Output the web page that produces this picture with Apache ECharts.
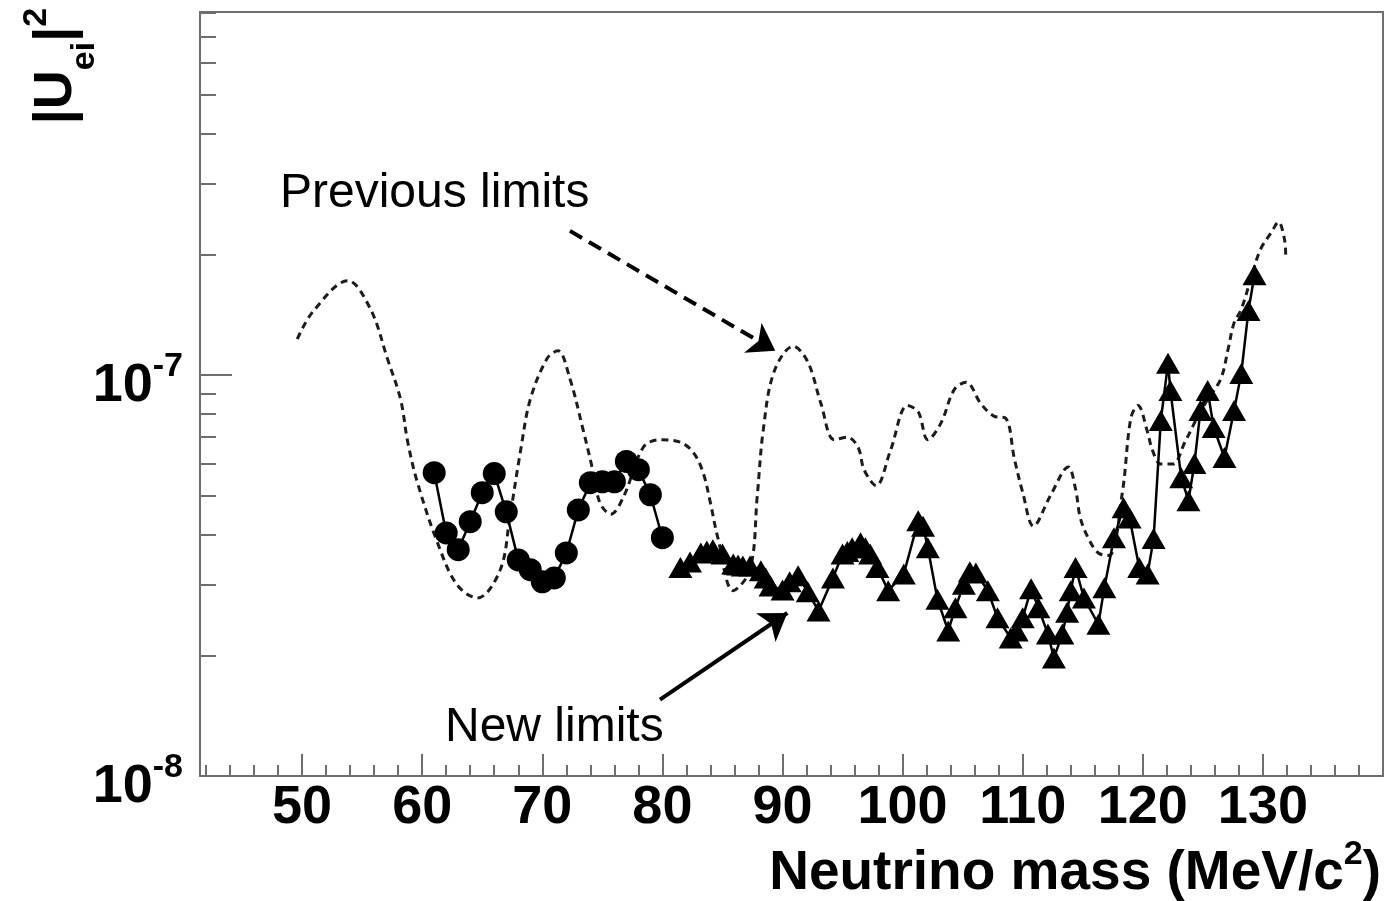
<!DOCTYPE html>
<html>
<head>
<meta charset="utf-8">
<script src="https://cdn.jsdelivr.net/npm/echarts@6/dist/echarts.min.js"></script>
<style>
html,body{margin:0;padding:0;background:#fff;}
#chart{width:1392px;height:901px;}
</style>
</head>
<body>
<div id="chart"></div>
<script>
// ---------- data ----------
// Previous limits (dashed curve): mass (MeV/c^2), |U_ei|^2
const prevMass = [49.6,50.9,53.8,55.7,57.1,58.2,58.8,59.6,61.3,62.9,64.6,66.5,67.3,68.2,69.0,70.4,71.3,72.3,73.4,74.2,74.8,75.7,76.8,78.4,79.8,81.5,82.6,83.4,84.0,84.6,85.9,87.3,87.9,88.4,89.3,90.9,92.1,93.2,94.3,95.4,96.3,96.8,97.8,99.0,100.4,101.3,102.1,103.2,104.3,105.3,106.5,107.6,108.6,109.3,110.0,110.9,112.3,113.8,114.4,114.8,115.5,116.3,117.2,118.3,119.0,119.6,120.4,120.8,121.5,122.5,123.5,124.5,125.4,126.5,127.1,127.6,128.2,129.0,129.8,130.7,131.3,131.8,131.9];
const prevU2 = [1.23e-7,1.44e-7,1.72e-7,1.46e-7,1.10e-7,8.7e-8,6.8e-8,5.4e-8,3.8e-8,3.0e-8,2.78e-8,3.27e-8,4.43e-8,6.5e-8,8.7e-8,1.10e-7,1.15e-7,9.8e-8,7.3e-8,5.8e-8,4.8e-8,4.5e-8,5.0e-8,6.6e-8,6.9e-8,6.8e-8,6.4e-8,5.7e-8,4.8e-8,3.95e-8,2.9e-8,3.27e-8,5.0e-8,7.3e-8,1.02e-7,1.18e-7,1.08e-7,8.5e-8,6.9e-8,7.0e-8,6.6e-8,5.8e-8,5.3e-8,6.5e-8,8.4e-8,8.1e-8,6.9e-8,7.6e-8,9.2e-8,9.6e-8,8.5e-8,7.9e-8,7.8e-8,6.2e-8,5.1e-8,4.2e-8,5.0e-8,5.9e-8,5.2e-8,4.4e-8,3.9e-8,3.6e-8,3.55e-8,5.1e-8,7.8e-8,8.4e-8,7.2e-8,6.5e-8,6.0e-8,6.0e-8,6.8e-8,7.8e-8,8.7e-8,9.8e-8,1.16e-7,1.35e-7,1.46e-7,1.74e-7,2.06e-7,2.27e-7,2.41e-7,2.18e-7,1.98e-7];

// New limits, circles
const circMass = [61,62,63,64,65,66,67,68,69,70,71,72,73,74,75,76,77,78,79,80];
const circU2 = [5.71e-8,4.04e-8,3.67e-8,4.31e-8,5.09e-8,5.68e-8,4.56e-8,3.46e-8,3.27e-8,3.05e-8,3.12e-8,3.60e-8,4.61e-8,5.39e-8,5.42e-8,5.42e-8,6.09e-8,5.81e-8,5.03e-8,3.93e-8];

// New limits, triangles
const triMass = [81.5,82.3,83.2,83.7,84.2,85.0,85.9,86.3,86.7,87.3,88.2,88.6,89.0,90.0,90.6,91.3,92.1,93.0,94.2,95.0,95.4,95.8,96.5,96.9,97.3,97.9,98.8,100.1,101.3,101.7,102.1,102.9,103.8,104.4,105.1,105.6,106.1,107.1,107.9,109.0,109.5,110.0,110.7,111.3,112.1,112.6,113.3,113.7,114.0,114.4,115.1,116.3,116.8,117.6,118.4,118.9,119.7,120.4,120.9,121.5,122.1,122.3,123.2,123.8,124.3,124.8,125.4,125.9,126.8,127.6,128.2,128.8,129.3];
const triU2 = [3.31e-8,3.42e-8,3.60e-8,3.64e-8,3.67e-8,3.58e-8,3.38e-8,3.36e-8,3.34e-8,3.34e-8,3.25e-8,3.12e-8,2.98e-8,2.91e-8,3.05e-8,3.16e-8,2.88e-8,2.58e-8,3.12e-8,3.58e-8,3.63e-8,3.71e-8,3.82e-8,3.71e-8,3.58e-8,3.31e-8,2.90e-8,3.19e-8,4.33e-8,4.20e-8,3.71e-8,2.76e-8,2.30e-8,2.63e-8,3.01e-8,3.23e-8,3.21e-8,2.90e-8,2.48e-8,2.21e-8,2.30e-8,2.48e-8,2.93e-8,2.63e-8,2.26e-8,1.97e-8,2.26e-8,2.56e-8,2.90e-8,3.31e-8,2.78e-8,2.39e-8,2.95e-8,3.93e-8,4.67e-8,4.40e-8,3.31e-8,3.19e-8,3.91e-8,7.71e-8,1.07e-7,9.16e-8,5.55e-8,4.86e-8,6.02e-8,8.16e-8,9.16e-8,7.40e-8,6.23e-8,8.16e-8,1.01e-7,1.45e-7,1.78e-7];

// Tick values
const xMajorTicks = [50,60,70,80,90,100,110,120,130];
const xMinorTicks = [42,44,46,48,52,54,56,58,62,64,66,68,72,74,76,78,82,84,86,88,92,94,96,98,102,104,106,108,112,114,116,118,122,124,126,128,132,134,136,138];
const yMajorTicks = [1e-8,1e-7];
const yMinorTicks = [2e-8,3e-8,4e-8,5e-8,6e-8,7e-8,8e-8,9e-8,2e-7,3e-7,4e-7,5e-7,6e-7,7e-7,8e-7];

// Annotation arrows (data coordinates: mass, |U|^2)
const prevArrow = [[72.3, 2.29e-7],[89.4, 1.15e-7]];
const newArrow = [[79.8, 1.55e-8],[90.4, 2.55e-8]];

// ---------- chart ----------
const FONT = "'Liberation Sans', Arial, Helvetica, sans-serif";
const AX = '#6e6e6e';
const X_MIN = 41.5, X_MAX = 140, Y_MIN = 1e-8, Y_MAX = 8.05e-7;
const pairs = (xs, ys) => xs.map((x, i) => [x, ys[i]]);

const chart = echarts.init(document.getElementById('chart'), null, {renderer: 'canvas'});

const baseLabel = {fontFamily: FONT, fontWeight: 'bold', color: '#000'};
const boldFill = {fontFamily: FONT, fontWeight: 'bold', fill: '#000'};

const option = {
  animation: false,
  backgroundColor: '#ffffff',
  grid: {left: 200, right: 9, top: 12, bottom: 125, show: true, borderColor: AX, borderWidth: 2,
         backgroundColor: 'transparent', containLabel: false, outerBoundsMode: 'none'},
  xAxis: [
    {
      type: 'value', min: X_MIN, max: X_MAX, position: 'bottom',
      axisLine: {show: true, onZero: false, lineStyle: {color: AX, width: 2}},
      axisTick: {show: true, inside: true, length: 22, lineStyle: {color: AX, width: 2}, customValues: xMajorTicks},
      axisLabel: Object.assign({show: true, customValues: xMajorTicks, margin: 5, fontSize: 54, lineHeight: 54, hideOverlap: false}, baseLabel),
      splitLine: {show: false}
    },
    {
      type: 'value', min: X_MIN, max: X_MAX, position: 'bottom',
      axisLine: {show: false},
      axisTick: {show: true, inside: true, length: 11, lineStyle: {color: AX, width: 2}, customValues: xMinorTicks},
      axisLabel: {show: false},
      splitLine: {show: false}
    }
  ],
  yAxis: [
    {
      type: 'log', logBase: 10, min: Y_MIN, max: Y_MAX, position: 'left',
      axisLine: {show: true, onZero: false, lineStyle: {color: AX, width: 2}},
      axisTick: {show: true, inside: true, length: 32, lineStyle: {color: AX, width: 2}, customValues: yMajorTicks},
      axisLabel: {
        show: true, customValues: yMajorTicks, margin: 17, padding: [22, 0, 0, 0],
        formatter: v => '{b|10}{s|' + Math.round(Math.log10(v)) + '}',
        rich: {
          b: Object.assign({fontSize: 54, lineHeight: 72, height: 72, verticalAlign: 'top'}, baseLabel),
          s: Object.assign({fontSize: 34, lineHeight: 34, height: 34, verticalAlign: 'top'}, baseLabel)
        }
      },
      splitLine: {show: false}
    },
    {
      type: 'log', logBase: 10, min: Y_MIN, max: Y_MAX, position: 'left',
      axisLine: {show: false},
      axisTick: {show: true, inside: true, length: 16, lineStyle: {color: AX, width: 2}, customValues: yMinorTicks},
      axisLabel: {show: false},
      splitLine: {show: false}
    }
  ],
  series: [
    {
      name: 'Previous limits', type: 'line', xAxisIndex: 0, yAxisIndex: 0,
      data: pairs(prevMass, prevU2), smooth: 0.35, symbol: 'none',
      lineStyle: {color: '#1c1c1c', width: 3, type: [7, 5]},
      silent: true,
      markLine: {
        silent: true, symbol: ['none', 'arrow'], symbolSize: 26,
        label: {show: false}, emphasis: {disabled: true},
        lineStyle: {color: '#000', width: 4, type: [14, 8]},
        data: [[{coord: prevArrow[0]}, {coord: prevArrow[1]}]]
      }
    },
    {
      name: 'New limits (circles)', type: 'line', xAxisIndex: 0, yAxisIndex: 0,
      data: pairs(circMass, circU2), symbol: 'circle', symbolSize: 23,
      itemStyle: {color: '#000'}, lineStyle: {color: '#000', width: 2.5},
      silent: true
    },
    {
      name: 'New limits (triangles)', type: 'line', xAxisIndex: 0, yAxisIndex: 0,
      data: pairs(triMass, triU2), symbol: 'triangle', symbolSize: [24, 21],
      itemStyle: {color: '#000'}, lineStyle: {color: '#000', width: 2.5},
      silent: true,
      markLine: {
        silent: true, symbol: ['none', 'arrow'], symbolSize: 26,
        label: {show: false}, emphasis: {disabled: true},
        lineStyle: {color: '#000', width: 4, type: 'solid'},
        data: [[{coord: newArrow[0]}, {coord: newArrow[1]}]]
      }
    }
  ],
  graphic: [
    {
      // y-axis title |U_ei|^2, rotated to read bottom-to-top
      type: 'text', x: 20, y: 66, rotation: Math.PI / 2, silent: true,
      style: {
        text: '{m||U}{sub|ei}{m||}{sup|2}', align: 'center', verticalAlign: 'top',
        rich: {
          m: Object.assign({fontSize: 54, lineHeight: 72, height: 72, verticalAlign: 'top'}, boldFill),
          sub: Object.assign({fontSize: 34, lineHeight: 130, height: 130, verticalAlign: 'top'}, boldFill),
          sup: Object.assign({fontSize: 34, lineHeight: 34, height: 34, verticalAlign: 'top'}, boldFill)
        }
      }
    },
    {
      // x-axis title
      type: 'text', x: 1381, y: 837.5, silent: true,
      style: {
        text: '{t|Neutrino mass (MeV/c}{s|2}{t|)}', align: 'right', verticalAlign: 'top',
        rich: {
          t: Object.assign({fontSize: 55, lineHeight: 72, height: 72, verticalAlign: 'top'}, boldFill),
          s: Object.assign({fontSize: 34, lineHeight: 34, height: 34, verticalAlign: 'top'}, boldFill)
        }
      }
    },
    {
      type: 'text', x: 280, y: 194, silent: true,
      style: {text: 'Previous limits', fontSize: 48, fontFamily: FONT, fill: '#000', align: 'left', verticalAlign: 'middle'}
    },
    {
      type: 'text', x: 445, y: 728, silent: true,
      style: {text: 'New limits', fontSize: 48, fontFamily: FONT, fill: '#000', align: 'left', verticalAlign: 'middle'}
    }
  ]
};

chart.setOption(option);
</script>
</body>
</html>
